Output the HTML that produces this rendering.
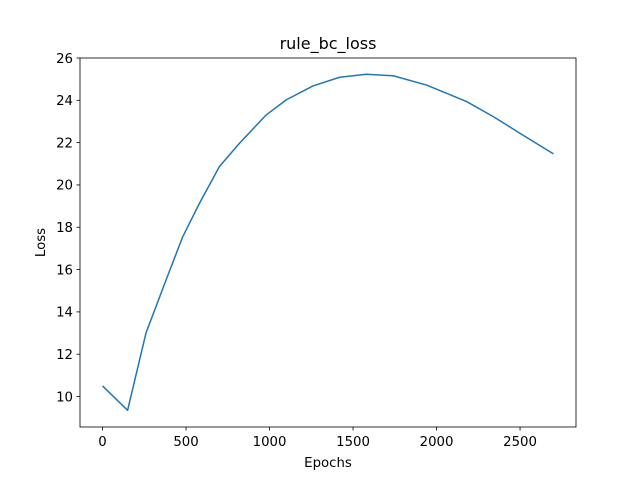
<!DOCTYPE html>
<html><head><meta charset="utf-8"><style>
body{margin:0;background:#fff;font-family:"DejaVu Sans","Liberation Sans",sans-serif}
</style></head><body>
<svg id="chart" width="640" height="480" xmlns="http://www.w3.org/2000/svg">
<rect width="640" height="480" fill="#fff"/>
<g id="g"></g>
</svg>
<script>
const epochs=[0,150,260,380,480,580,700,820,980,1100,1260,1420,1580,1740,1940,2180,2340,2500,2700];
const losses=[10.5,9.35,13.0,15.5,17.55,19.13,20.87,21.97,23.31,24.02,24.68,25.09,25.23,25.16,24.72,23.94,23.23,22.44,21.47];
const xTicks=[0,500,1000,1500,2000,2500];
const yTicks=[10,12,14,16,18,20,22,24,26];
const L=80,R=576,T=58,B=427;
const xmin=-135,xmax=2835,ymin=8.56,ymax=26.0;
const sx=v=>L+(v-xmin)/(xmax-xmin)*(R-L);
const sy=v=>B-(v-ymin)/(ymax-ymin)*(B-T);
const g=document.getElementById('g');const NS='http://www.w3.org/2000/svg';
function mk(t,a,txt){const e=document.createElementNS(NS,t);for(const k in a)e.setAttribute(k,a[k]);if(txt!==undefined)e.textContent=txt;g.appendChild(e);return e;}
const line=mk('polyline',{points:epochs.map((e,i)=>sx(e)+','+sy(losses[i])).join(' '),fill:'none',stroke:'#1f77b4','stroke-width':1.5,'stroke-linejoin':'round'});


const fr=mk('rect',{x:L,y:T,width:R-L,height:B-T,fill:'none',stroke:'#000','stroke-width':0.8});


xTicks.forEach(v=>{const x=sx(v);
const t=mk('line',{x1:x,x2:x,y1:B,y2:B+3.5,stroke:'#000','stroke-width':0.8});


const l=mk('text',{x:x,y:B+19,'text-anchor':'middle','font-size':'13.3px',fill:'#000'},String(v));

});
yTicks.forEach(v=>{const y=sy(v);
const t=mk('line',{x1:L-3.5,x2:L,y1:y,y2:y,stroke:'#000','stroke-width':0.8});


const l=mk('text',{x:L-7,y:y+4.8,'text-anchor':'end','font-size':'13.3px',fill:'#000'},String(v));

});
const ti=mk('text',{x:(L+R)/2,y:49,'text-anchor':'middle','font-size':'16px'},'rule_bc_loss');


const xl=mk('text',{x:(L+R)/2,y:467,'text-anchor':'middle','font-size':'13.3px'},'Epochs');


const yl=mk('text',{x:45,y:(T+B)/2,'text-anchor':'middle','font-size':'13.3px',transform:'rotate(-90 45 '+((T+B)/2)+')'},'Loss');


</script>
</body></html>
